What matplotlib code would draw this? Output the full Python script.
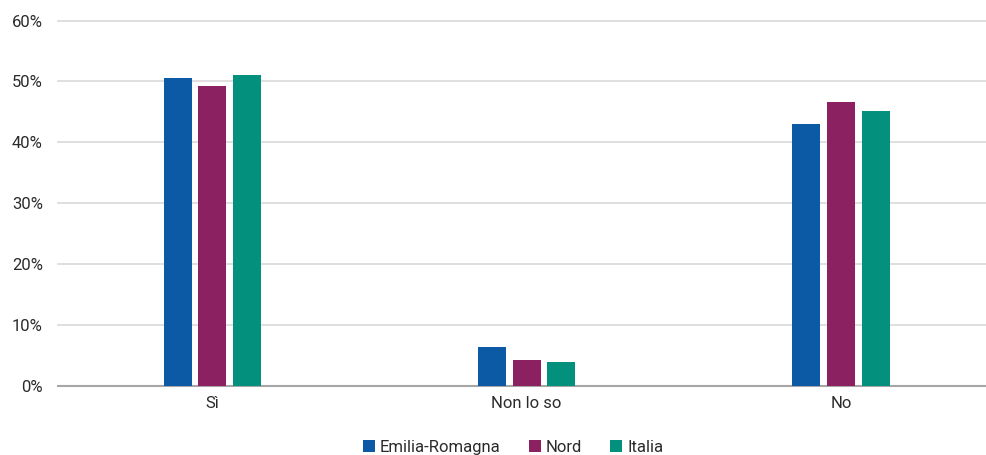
import matplotlib
import matplotlib.pyplot as plt
import numpy as np

matplotlib.use('Agg')
plt.rcParams["font.family"] = ["Roboto", "DejaVu Sans"]

categories = ["Sì", "Non lo so", "No"]
series_names = ["Emilia-Romagna", "Nord", "Italia"]
emilia = [50.5, 6.4, 43.1]
nord = [49.2, 4.3, 46.7]
italia = [51.0, 3.9, 45.1]
colors = ["#0C59A6", "#8B2160", "#03907D"]

fig = plt.figure(figsize=(9.87, 4.55), dpi=100)
ax = fig.add_axes([0.0588, 0.1516, 0.9402, 0.8032])

x = np.arange(len(categories))
width = 0.089
pitch = 0.110
for i, (vals, name) in enumerate(zip([emilia, nord, italia], series_names)):
    ax.bar(x + (i - 1) * pitch, vals, width, color=colors[i], label=name, zorder=3)

ax.set_xlim(-0.49, 2.461)
ax.set_ylim(0, 60)
ax.set_yticks(range(0, 61, 10))
ax.set_yticklabels([f"{v}%" for v in range(0, 61, 10)], fontsize=12, color="#2b2b2b")
ax.set_xticks(x)
ax.set_xticklabels(categories, fontsize=12, color="#2b2b2b")
ax.yaxis.grid(True, color="#D9D9D9", linewidth=1.2, zorder=0)
for line in ax.get_ygridlines():
    line.set_clip_on(False)
for side in ["top", "right", "left"]:
    ax.spines[side].set_visible(False)
ax.spines["bottom"].set_color("#A6A6A6")
ax.spines["bottom"].set_linewidth(1.5)
ax.tick_params(axis="y", length=0, pad=11)
ax.tick_params(axis="x", length=0, pad=7)

leg = fig.legend(loc="lower center", bbox_to_anchor=(0.52, -0.032), ncol=3, frameon=False,
                 fontsize=12, handlelength=0.7, handleheight=0.7, handletextpad=0.3,
                 columnspacing=1.7)
for t in leg.get_texts():
    t.set_color("#2b2b2b")

fig.savefig("out.png", dpi=100)
